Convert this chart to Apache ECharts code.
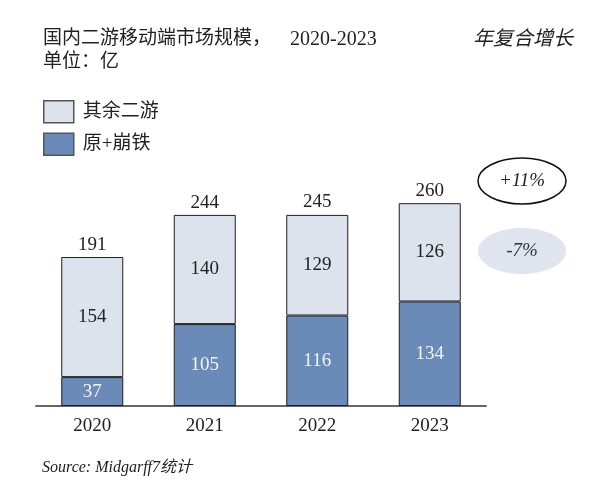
<!DOCTYPE html>
<html>
<head>
<meta charset="utf-8">
<script src="https://cdn.jsdelivr.net/npm/echarts@6/dist/echarts.min.js"></script>
<style>html,body{margin:0;padding:0;background:#fff;}#c{width:600px;height:501px;}</style>
</head>
<body>
<div id="c"></div>
<script>
var categories = ['2020', '2021', '2022', '2023'];
var genshinHsr = [37, 105, 116, 134];
var otherGames = [154, 140, 129, 126];
var totals = [191, 244, 245, 260];
var seriesNames = ['其余二游', '原+崩铁'];
var cagrTitle = '年复合增长';
var cagrLabels = ['+11%', '-7%'];
var titleMain = '国内二游移动端市场规模，';
var titleYears = '2020-2023';
var titleUnit = '单位：亿';
var sourceText = 'Source: Midgarff7统计';

var FONT = "'Liberation Serif', 'Noto Sans CJK SC', serif";
var chart = echarts.init(document.getElementById('c'));
chart.setOption({
  animation: false,
  backgroundColor: '#ffffff',
  title: {
    text: titleMain + '    {n|' + titleYears + '}\n' + titleUnit,
    left: 38, top: 23,
    textStyle: {
      fontFamily: FONT, fontSize: 19, fontWeight: 'normal', color: '#222', lineHeight: 23,
      rich: { n: { fontFamily: FONT, fontSize: 20, color: '#222', lineHeight: 23 } }
    }
  },
  legend: {
    orient: 'vertical', left: 38, top: 95,
    itemWidth: 30, itemHeight: 22, itemGap: 9,
    icon: 'rect',
    data: [seriesNames[0], seriesNames[1]],
    itemStyle: { borderColor: '#555', borderWidth: 1.5 },
    textStyle: { fontFamily: FONT, fontSize: 19, color: '#222', lineHeight: 22, padding: [0, 0, 0, 4] }
  },
  grid: { left: 36, right: 114, top: 172, bottom: 95 },
  xAxis: {
    type: 'category', data: categories,
    axisLine: { lineStyle: { color: '#666', width: 2 } },
    axisTick: { show: false },
    axisLabel: { fontFamily: FONT, fontSize: 19, color: '#222', margin: 11 }
  },
  yAxis: { type: 'value', min: 0, max: 300, show: false, splitLine: { show: false } },
  series: [
    {
      name: seriesNames[1], type: 'bar', stack: 'a', barWidth: 62, data: genshinHsr,
      itemStyle: { color: '#6a8bb8', borderColor: '#1e1e1e', borderWidth: 1 },
      label: { show: true, position: 'inside', fontFamily: FONT, fontSize: 19, color: '#f4f4f4' }
    },
    {
      name: seriesNames[0], type: 'bar', stack: 'a', barWidth: 62, data: otherGames,
      itemStyle: { color: '#dde3ed', borderColor: '#1e1e1e', borderWidth: 1 },
      label: { show: true, position: 'inside', fontFamily: FONT, fontSize: 19, color: '#222' }
    },
    {
      name: 'total', type: 'bar', barWidth: 62, barGap: '-100%', data: totals, z: 1,
      itemStyle: { color: 'rgba(0,0,0,0)' }, silent: true,
      label: { show: true, position: 'top', distance: 3, fontFamily: FONT, fontSize: 19, color: '#222' }
    }
  ],
  graphic: [
    { type: 'text', x: 473, y: 40, style: { text: cagrTitle, font: 'italic 20px ' + FONT, fill: '#222', verticalAlign: 'middle' } },
    { type: 'ellipse', shape: { cx: 522, cy: 181, rx: 44, ry: 23 }, style: { fill: '#fff', stroke: '#111', lineWidth: 1.5 } },
    { type: 'text', x: 522, y: 181, style: { text: cagrLabels[0], font: 'italic 19px ' + FONT, fill: '#222', align: 'center', verticalAlign: 'middle' } },
    { type: 'ellipse', shape: { cx: 522, cy: 251, rx: 44, ry: 23 }, style: { fill: '#dfe4ee', stroke: 'none' } },
    { type: 'text', x: 522, y: 251, style: { text: cagrLabels[1], font: 'italic 19px ' + FONT, fill: '#333', align: 'center', verticalAlign: 'middle' } },
    { type: 'text', x: 42, y: 468, style: { text: sourceText, font: 'italic 16px ' + FONT, fill: '#222', verticalAlign: 'middle' } }
  ]
});
</script>
</body>
</html>
